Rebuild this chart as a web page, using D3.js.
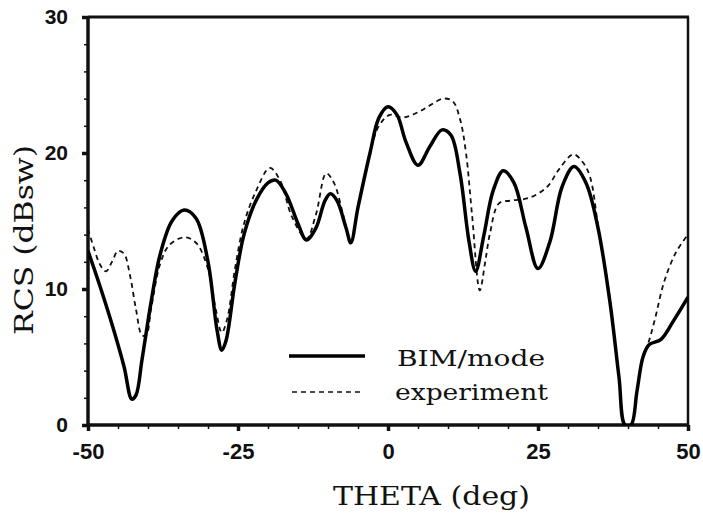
<!DOCTYPE html>
<html>
<head>
<meta charset="utf-8">
<script src="https://cdn.jsdelivr.net/npm/d3@7"></script>
<style>
  body { margin: 0; background: #fff; }
  .tick text { font-family: "Liberation Sans", Arial, sans-serif; font-weight: bold; }
  .title { font-family: "DejaVu Serif", serif; fill: #111; }
</style>
</head>
<body>
<svg id="chart"></svg>
<script>
// BIM/mode (solid) : [theta, rcs]
var bimTheta = [-50, -48, -46, -44, -42.7, -42, -41, -39.5, -38, -36, -34, -32, -30, -28.5, -27.7, -27, -25.5, -24, -22, -20, -18.7, -17, -15, -13.6, -12, -10.5, -9.6, -8.5, -7, -6.2, -5, -3, -1.5, 0, 1.5, 3, 5, 7, 9, 10.5, 12, 13.5, 14.6, 16, 17.5, 19.2, 21, 23, 25, 27, 29, 31, 33, 35, 37, 38.5, 39.5, 40.5, 41.5, 42.5, 43.5, 45.5, 47.5, 50];
var bimRcs   = [12.8, 10.2, 7.4, 4.3, 1.9, 2.2, 4.8, 9.0, 12.5, 15.0, 15.8, 15.2, 12.0, 7.0, 5.5, 6.2, 10.5, 14.0, 16.5, 17.8, 18.0, 17.0, 14.8, 13.6, 14.5, 16.5, 17.0, 16.5, 14.5, 13.4, 16.0, 20.0, 22.6, 23.4, 22.8, 20.8, 19.1, 20.5, 21.7, 21.3, 18.5, 13.5, 11.3, 14.0, 17.2, 18.7, 17.8, 14.5, 11.5, 13.5, 17.5, 19.0, 17.8, 14.5, 9.0, 3.5, 0, 0, 2.5, 5.0, 5.9, 6.3, 7.6, 9.4];

// experiment (dashed)
var expTheta = [-50, -49, -48, -47, -46, -45, -44, -43, -42, -41, -40.3, -39.5, -38, -36.5, -34, -32, -30, -28.7, -27.7, -26.8, -25.5, -24, -22, -19.7, -18, -16, -13.6, -12, -10.3, -9, -7.5, -6.2, -5, -3, -1.5, 0.3, 2.5, 5, 7, 9.2, 10.8, 12, 13, 14, 15.3, 16.2, 17, 18.5, 20.5, 23.5, 26.5, 28.5, 30.9, 32.5, 33.7, 35, 37, 38.5, 39.5, 40.5, 41.5, 42.5, 43.3, 44.5, 46, 48, 50];
var expRcs   = [14.4, 13.0, 11.8, 11.3, 12.0, 12.8, 12.6, 11.0, 8.5, 6.6, 6.6, 8.5, 11.8, 13.2, 13.8, 13.4, 11.5, 8.5, 6.8, 7.8, 11.5, 14.8, 17.2, 18.9, 18.0, 15.3, 13.7, 15.5, 18.5, 17.8, 15.5, 13.4, 16.0, 20.0, 22.0, 22.8, 22.6, 23.0, 23.5, 24.0, 23.8, 22.5, 20.0, 15.5, 9.9, 12.0, 14.1, 16.3, 16.5, 16.7, 17.5, 18.8, 19.9, 19.3, 18.2, 14.7, 9.2, 3.5, 0, 0, 2.5, 5.0, 5.9, 7.8, 10.5, 12.7, 14.0];

var xTicks = [-50, -25, 0, 25, 50];
var yTicks = [0, 10, 20, 30];
var legendLabels = ['BIM/mode', 'experiment'];

var width = 703, height = 515;
var margin = {left: 88, right: 15, top: 17, bottom: 90};

var svg = d3.select('#chart').attr('width', width).attr('height', height);

var x = d3.scaleLinear().domain([-50, 50]).range([margin.left, width - margin.right]);
var y = d3.scaleLinear().domain([0, 30]).range([height - margin.bottom, margin.top]);

svg.append('defs').append('clipPath').attr('id', 'clip')
  .append('rect')
  .attr('x', x(-50)).attr('y', y(30))
  .attr('width', x(50) - x(-50)).attr('height', y(0) - y(30));

// minor ticks
svg.append('g')
  .attr('transform', 'translate(0,' + y(0) + ')')
  .call(d3.axisBottom(x).tickValues(d3.range(-45, 50, 5)).tickSize(4).tickFormat(''))
  .call(g => g.select('.domain').remove())
  .selectAll('line').attr('stroke', '#111').attr('stroke-width', 1.5);
svg.append('g')
  .attr('transform', 'translate(' + x(-50) + ',0)')
  .call(d3.axisLeft(y).tickValues(d3.range(2, 30, 2)).tickSize(4).tickFormat(''))
  .call(g => g.select('.domain').remove())
  .selectAll('line').attr('stroke', '#111').attr('stroke-width', 1.5);

// major ticks (plain hyphen for negatives, like the original)
var xAxis = svg.append('g')
  .attr('transform', 'translate(0,' + y(0) + ')')
  .call(d3.axisBottom(x).tickValues(xTicks).tickSize(6).tickPadding(12).tickFormat(d => String(d)))
  .call(g => g.select('.domain').remove());
xAxis.selectAll('line').attr('stroke', '#111').attr('stroke-width', 3.5);
xAxis.selectAll('text').attr('font-size', 22).attr('fill', '#111');

var yAxis = svg.append('g')
  .attr('transform', 'translate(' + x(-50) + ',0)')
  .call(d3.axisLeft(y).tickValues(yTicks).tickSize(6).tickPadding(14).tickFormat(d => String(d)))
  .call(g => g.select('.domain').remove());
yAxis.selectAll('line').attr('stroke', '#111').attr('stroke-width', 3.5);
yAxis.selectAll('text').attr('font-size', 21).attr('fill', '#111');

// frame
svg.append('line').attr('x1', x(-50)).attr('x2', x(-50)).attr('y1', y(30) - 1).attr('y2', y(0) + 1)
  .attr('stroke', '#111').attr('stroke-width', 3.5);
svg.append('line').attr('x1', x(-50) - 1).attr('x2', x(50) + 1).attr('y1', y(0)).attr('y2', y(0))
  .attr('stroke', '#111').attr('stroke-width', 3.5);
svg.append('line').attr('x1', x(-50)).attr('x2', x(50) + 1).attr('y1', y(30)).attr('y2', y(30))
  .attr('stroke', '#111').attr('stroke-width', 3);
svg.append('line').attr('x1', x(50)).attr('x2', x(50)).attr('y1', y(30)).attr('y2', y(0))
  .attr('stroke', '#111').attr('stroke-width', 2.5);

var line = d3.line()
  .x(d => x(d[0]))
  .y(d => y(d[1]))
  .curve(d3.curveCatmullRom.alpha(0.5));

var plot = svg.append('g').attr('clip-path', 'url(#clip)');

plot.append('path')
  .datum(d3.zip(expTheta, expRcs))
  .attr('d', line)
  .attr('fill', 'none')
  .attr('stroke', '#111')
  .attr('stroke-width', 1.8)
  .attr('stroke-dasharray', '5,4');

plot.append('path')
  .datum(d3.zip(bimTheta, bimRcs))
  .attr('d', line)
  .attr('fill', 'none')
  .attr('stroke', '#000')
  .attr('stroke-width', 3.5)
  .attr('stroke-linejoin', 'round');

// legend
var legend = svg.append('g');
legend.append('line').attr('x1', 289).attr('x2', 365).attr('y1', 356).attr('y2', 356)
  .attr('stroke', '#000').attr('stroke-width', 3.5);
legend.append('line').attr('x1', 292).attr('x2', 364).attr('y1', 392).attr('y2', 392)
  .attr('stroke', '#111').attr('stroke-width', 1.5).attr('stroke-dasharray', '5,4');
legend.selectAll('text').data(legendLabels).enter().append('text')
  .attr('class', 'title')
  .attr('x', (d, i) => 397 - i * 2)
  .attr('y', (d, i) => 366 + i * 34)
  .attr('font-size', 22)
  .attr('textLength', (d, i) => i ? 153 : 148)
  .attr('lengthAdjust', 'spacingAndGlyphs')
  .text(d => d);

// axis titles
svg.append('text').attr('class', 'title')
  .attr('x', 333).attr('y', 505)
  .attr('font-size', 26)
  .attr('textLength', 197)
  .attr('lengthAdjust', 'spacingAndGlyphs')
  .text('THETA (deg)');
svg.append('text').attr('class', 'title')
  .attr('transform', 'translate(33,' + 335 + ') rotate(-90)')
  .attr('font-size', 26)
  .attr('textLength', 190)
  .attr('lengthAdjust', 'spacingAndGlyphs')
  .text('RCS (dBsw)');
</script>
</body>
</html>
